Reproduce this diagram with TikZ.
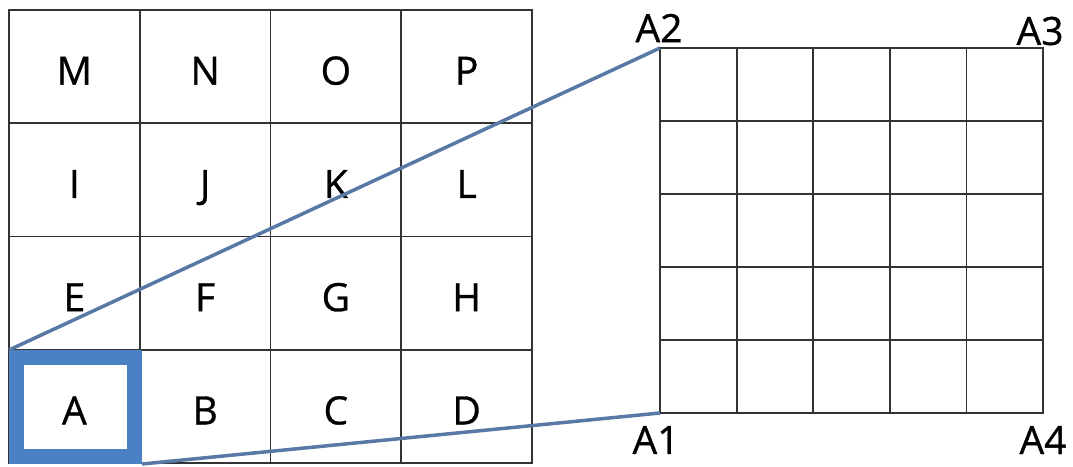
\documentclass[tikz,border=0pt]{standalone}
\usepackage{fontspec}
\setmainfont[FakeBold=0.8,AutoFakeBold=0.8]{Open Sans}
\definecolor{gridc}{rgb}{0.2,0.2,0.2}
\definecolor{selblue}{RGB}{74,128,196}
\definecolor{linkblue}{RGB}{88,120,165}
\begin{document}
\begin{tikzpicture}[x=1pt,y=-1pt,
  cell/.style={draw=gridc,line width=1.8pt,minimum width=130.75pt,minimum height=113.25pt,inner sep=0pt,outer sep=0pt,font=\fontsize{39}{44}\selectfont,text height=36pt,text depth=0pt},
  rcell/.style={draw=gridc,line width=1.8pt,minimum width=76.6pt,minimum height=73pt,inner sep=0pt,outer sep=0pt},
  lab/.style={font=\fontsize{39}{44}\selectfont,inner sep=0pt},
  link/.style={draw=linkblue,line width=3.5pt},
  sel/.style={draw=selblue,line width=15pt,minimum width=118pt,minimum height=99pt,inner sep=0pt,outer sep=7.5pt}]
\useasboundingbox (0,0) rectangle (1073,466);
% left grid
\foreach \r/\row in {0/{M,N,O,P},1/{I,J,K,L},2/{E,F,G,H},3/{A,B,C,D}}{
  \foreach \t [count=\c from 0] in \row {
    \node[cell] (\t) at ({9+130.75*\c+65.375},{10+113.25*\r+56.625}) {\t};
  }
}
% right grid
\foreach \r in {0,...,4}{
  \foreach \c in {0,...,4}{
    \node[rcell] (r\r\c) at ({660+76.6*\c+38.3},{48+73*\r+36.5}) {};
  }
}
% selection square
\node[sel] (selsq) at (75.5,407) {};
% connectors
\draw[link] (selsq.north west) -- (r00.north west);
\draw[link] (selsq.south east) -- (r40.south west);
% labels
\node[lab] (a2) at (659,28) {A2};
\node[lab] (a3) at (1040,31) {A3};
\node[lab] (a1) at (656,440) {A1};
\node[lab] (a4) at (1043,440) {A4};
\end{tikzpicture}
\end{document}
